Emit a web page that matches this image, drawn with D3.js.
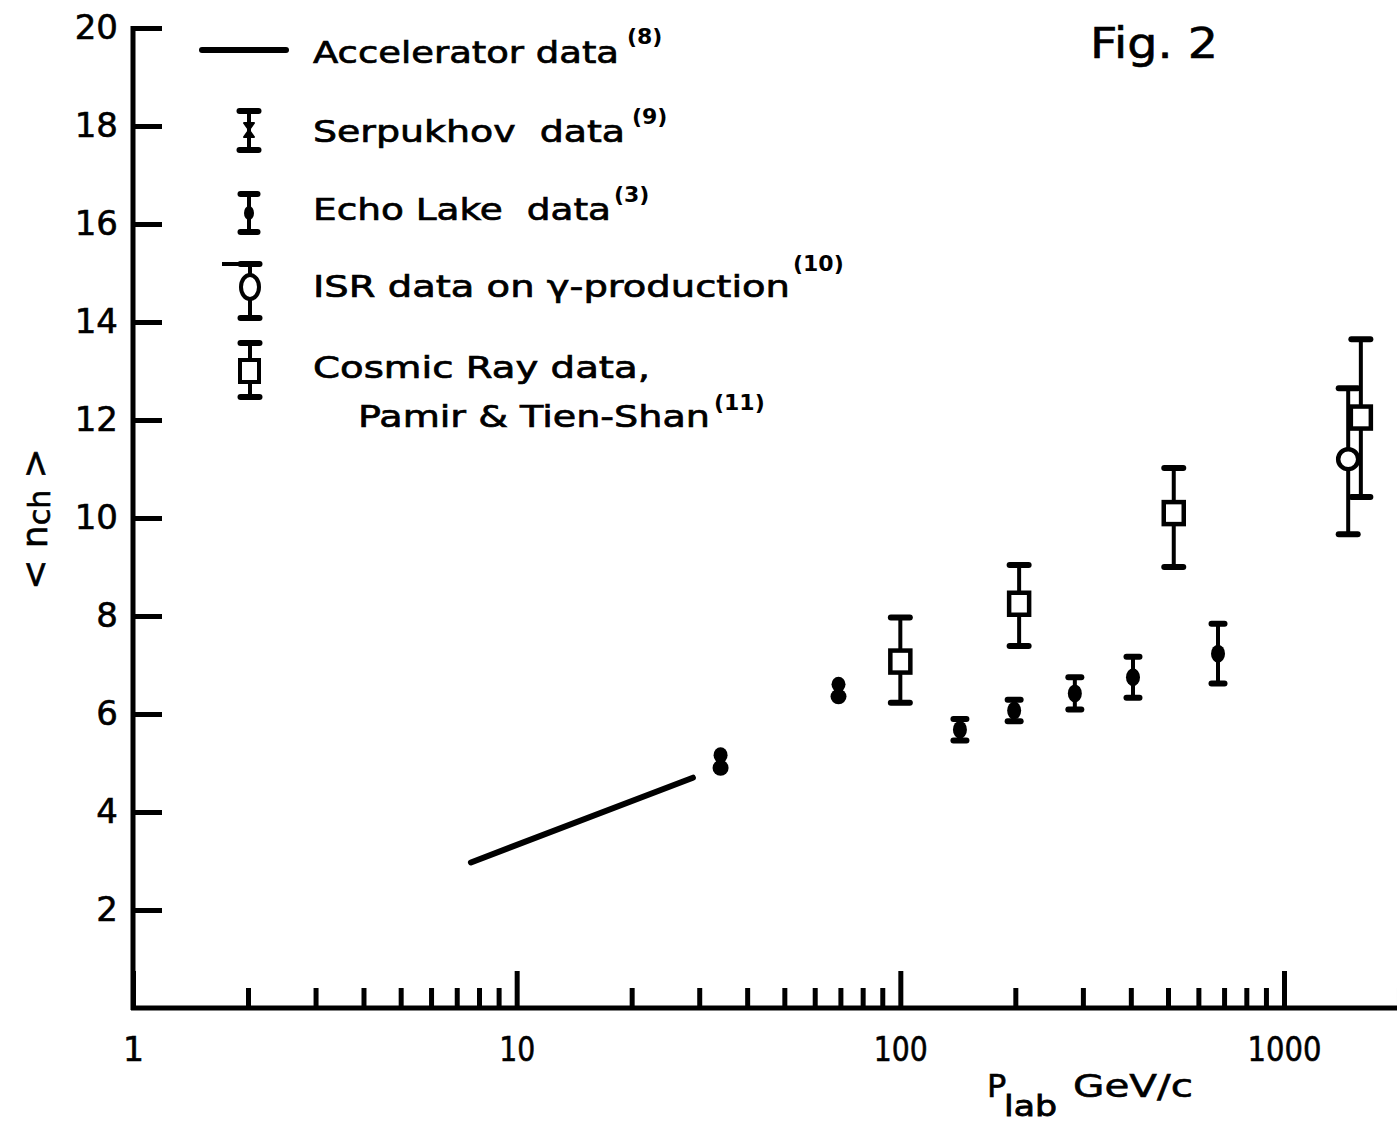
<!DOCTYPE html>
<html>
<head>
<meta charset="utf-8">
<script src="https://cdn.jsdelivr.net/npm/d3@7"></script>
<style>
  body { margin: 0; background: #fff; }
  svg { display: block; }
  text { font-family: "DejaVu Sans", sans-serif; fill: #000; white-space: pre; }
</style>
</head>
<body>
<div id="chart"></div>
<script>
// values: <n_ch> vs P_lab (GeV/c)
var accelP = [7.6, 28.8];
var accelN = [2.97, 4.7];

var serpP = [34, 69];
var serpN = [5.03, 6.48];
var serpErr = [0.26, 0.25];

var echoP = [143, 198, 285, 404, 673];
var echoN = [5.68, 6.07, 6.42, 6.75, 7.23];
var echoErr = [0.22, 0.22, 0.33, 0.42, 0.61];

var isrP = [1470];
var isrN = [11.2];
var isrLo = [9.67];
var isrHi = [12.65];

var cosmicP = [100, 204, 516, 1586];
var cosmicN = [7.07, 8.25, 10.1, 12.05];
var cosmicLo = [6.23, 7.39, 9.0, 10.43];
var cosmicHi = [7.97, 9.04, 11.02, 13.65];

var yTicks = [2, 4, 6, 8, 10, 12, 14, 16, 18, 20];
var xMajor = [1, 10, 100, 1000];
var xMinor = [2, 3, 4, 5, 6, 7, 8, 9, 20, 30, 40, 50, 60, 70, 80, 90,
              200, 300, 400, 500, 600, 700, 800, 900, 2000];

var W = 1397, H = 1123;

var svg = d3.select("#chart").append("svg")
    .attr("width", W)
    .attr("height", H);

var x = d3.scaleLog().domain([1, 1000]).range([133, 1284]);
var y = d3.scaleLinear().domain([0, 20]).range([1008, 28]);

// axes
var yAxis = d3.axisLeft(y).tickValues(yTicks).tickSize(-29).tickSizeOuter(0).tickPadding(15);
var gy = svg.append("g").attr("transform", "translate(133,0)").call(yAxis);
gy.select(".domain").remove();
gy.selectAll(".tick line").attr("stroke", "#000").attr("stroke-width", 5);
gy.selectAll(".tick text").style("font-size", "34px").attr("fill", "#000")
    .attr("stroke", "#000").attr("stroke-width", 0.6);

var labW = { 10: 36, 100: 54, 1000: 74 };
var xAxis = d3.axisBottom(x).tickValues(xMajor).tickSize(-37).tickSizeOuter(0)
    .tickPadding(30).tickFormat(d3.format("d"));
var gx = svg.append("g").attr("transform", "translate(0,1008)").call(xAxis);
gx.select(".domain").remove();
gx.selectAll(".tick line").attr("stroke", "#000").attr("stroke-width", 5);
gx.selectAll(".tick text").style("font-size", "33px").attr("fill", "#000")
    .attr("stroke", "#000").attr("stroke-width", 0.6);
gx.selectAll(".tick text").filter(function (d) { return labW[d]; })
    .attr("textLength", function (d) { return labW[d]; })
    .attr("lengthAdjust", "spacingAndGlyphs");

svg.append("g").selectAll("line").data(xMinor).enter().append("line")
    .attr("x1", function (d) { return x(d); })
    .attr("x2", function (d) { return x(d); })
    .attr("y1", 1008)
    .attr("y2", 988)
    .attr("stroke", "#000")
    .attr("stroke-width", 5);

// frame lines
svg.append("line").attr("x1", 133).attr("x2", 133).attr("y1", y(20) - 2).attr("y2", y(0) + 2)
    .attr("stroke", "#000").attr("stroke-width", 5);
svg.append("line").attr("x1", 131).attr("x2", W).attr("y1", y(0)).attr("y2", y(0))
    .attr("stroke", "#000").attr("stroke-width", 5);

// axis titles
var yt = svg.append("text")
    .attr("transform", "translate(47,519) rotate(-90)")
    .attr("text-anchor", "middle")
    .attr("stroke", "#000").attr("stroke-width", 0.6)
    .style("font-size", "36px");
yt.append("tspan").text("< n");
yt.append("tspan").attr("dy", 3).style("font-size", "30px").text("ch");
yt.append("tspan").attr("dy", -3).text(" >");

svg.append("text").attr("x", 987).attr("y", 1097).style("font-size", "32px")
    .attr("stroke", "#000").attr("stroke-width", 0.6).text("P");
svg.append("text").attr("x", 1004).attr("y", 1116).style("font-size", "28px")
    .attr("textLength", 53).attr("lengthAdjust", "spacingAndGlyphs")
    .attr("stroke", "#000").attr("stroke-width", 0.8).text("lab");
svg.append("text").attr("x", 1073).attr("y", 1097).style("font-size", "32px")
    .attr("textLength", 120).attr("lengthAdjust", "spacingAndGlyphs")
    .attr("stroke", "#000").attr("stroke-width", 0.6).text("GeV/c");

svg.append("text").attr("x", 1090).attr("y", 58).style("font-size", "42px")
    .attr("textLength", 128).attr("lengthAdjust", "spacingAndGlyphs")
    .attr("stroke", "#000").attr("stroke-width", 0.6).text("Fig. 2");

// helpers
function errBar(g, cx, yLo, yHi, capW) {
    g.append("line").attr("x1", cx).attr("x2", cx).attr("y1", yLo).attr("y2", yHi)
        .attr("stroke", "#000").attr("stroke-width", 4);
    [yLo, yHi].forEach(function (yy) {
        g.append("line").attr("x1", cx - capW / 2).attr("x2", cx + capW / 2)
            .attr("y1", yy).attr("y2", yy)
            .attr("stroke", "#000").attr("stroke-width", 6).attr("stroke-linecap", "round");
    });
}
function bowtie(g, cx, cy, hw, hh) {
    g.append("path")
        .attr("d", "M" + (cx - hw) + "," + (cy - hh) + "L" + (cx + hw) + "," + (cy - hh) +
            "L" + (cx - hw) + "," + (cy + hh) + "L" + (cx + hw) + "," + (cy + hh) + "Z")
        .attr("fill", "#000").attr("stroke", "#000").attr("stroke-width", 2)
        .attr("stroke-linejoin", "round");
}

var plot = svg.append("g");

// accelerator line
var line = d3.line().x(function (d) { return x(d[0]); }).y(function (d) { return y(d[1]); });
plot.append("path")
    .datum(d3.zip(accelP, accelN))
    .attr("d", line)
    .attr("fill", "none").attr("stroke", "#000").attr("stroke-width", 6)
    .attr("stroke-linecap", "round");

// Serpukhov: small error, so caps and cross merge into an hourglass blob
serpP.forEach(function (p, i) {
    var cx = x(p), yHi = y(serpN[i] + serpErr[i]), yLo = y(serpN[i] - serpErr[i]);
    var ry = (yLo - yHi) / 4;
    plot.append("ellipse").attr("cx", cx).attr("cy", yHi + ry).attr("rx", 7).attr("ry", ry + 1.5)
        .attr("fill", "#000");
    plot.append("ellipse").attr("cx", cx).attr("cy", yLo - ry).attr("rx", 8).attr("ry", ry + 1.5)
        .attr("fill", "#000");
    plot.append("rect").attr("x", cx - 4.5).attr("y", yHi + ry).attr("width", 9).attr("height", 2 * ry)
        .attr("fill", "#000");
});

// Echo Lake
echoP.forEach(function (p, i) {
    var cx = x(p);
    errBar(plot, cx, y(echoN[i] - echoErr[i]), y(echoN[i] + echoErr[i]), 13);
    plot.append("ellipse").attr("cx", cx).attr("cy", y(echoN[i])).attr("rx", 7).attr("ry", 9)
        .attr("fill", "#000");
});

// cosmic ray
cosmicP.forEach(function (p, i) {
    var cx = x(p), cy = y(cosmicN[i]);
    errBar(plot, cx, y(cosmicLo[i]), y(cosmicHi[i]), 19);
    plot.append("rect").attr("x", cx - 10).attr("y", cy - 11).attr("width", 20).attr("height", 22)
        .attr("fill", "#fff").attr("stroke", "#000").attr("stroke-width", 4.5);
});

// ISR
isrP.forEach(function (p, i) {
    var cx = x(p), cy = y(isrN[i]);
    errBar(plot, cx, y(isrLo[i]), y(isrHi[i]), 19);
    plot.append("circle").attr("cx", cx).attr("cy", cy).attr("r", 10)
        .attr("fill", "#fff").attr("stroke", "#000").attr("stroke-width", 4.5);
});

// legend
var lg = svg.append("g");
lg.append("line").attr("x1", 202).attr("x2", 286).attr("y1", 50).attr("y2", 50)
    .attr("stroke", "#000").attr("stroke-width", 6).attr("stroke-linecap", "round");

errBar(lg, 249, 150, 111, 19);
bowtie(lg, 249, 130, 5, 7);

errBar(lg, 249, 232, 194, 17);
lg.append("ellipse").attr("cx", 249).attr("cy", 213).attr("rx", 5).attr("ry", 7).attr("fill", "#000");

errBar(lg, 250, 318, 264, 19);
lg.append("line").attr("x1", 222).attr("x2", 250).attr("y1", 264).attr("y2", 264)
    .attr("stroke", "#000").attr("stroke-width", 4);
lg.append("ellipse").attr("cx", 250).attr("cy", 287).attr("rx", 9).attr("ry", 12)
    .attr("fill", "#fff").attr("stroke", "#000").attr("stroke-width", 4);

errBar(lg, 250, 397, 343, 19);
lg.append("rect").attr("x", 240).attr("y", 360).attr("width", 19).attr("height", 22)
    .attr("fill", "#fff").attr("stroke", "#000").attr("stroke-width", 4);

var legendRows = [
    { t: "Accelerator data", x: 313, y: 63, w: 306, sup: "(8)", sx: 627, sy: 44 },
    { t: "Serpukhov  data", x: 313, y: 142, w: 312, sup: "(9)", sx: 632, sy: 124 },
    { t: "Echo Lake  data", x: 313, y: 220, w: 298, sup: "(3)", sx: 614, sy: 202 },
    { t: "ISR data on \u03b3-production", x: 313, y: 297, w: 477, sup: "(10)", sx: 793, sy: 271 },
    { t: "Cosmic Ray data,", x: 313, y: 378, w: 337, sup: "", sx: 0, sy: 0 },
    { t: "Pamir & Tien-Shan", x: 358, y: 427, w: 352, sup: "(11)", sx: 714, sy: 410 }
];
legendRows.forEach(function (r) {
    lg.append("text").attr("x", r.x).attr("y", r.y)
        .attr("textLength", r.w).attr("lengthAdjust", "spacingAndGlyphs")
        .attr("stroke", "#000").attr("stroke-width", 0.7)
        .style("font-size", "31px").text(r.t);
    if (r.sup) {
        lg.append("text").attr("x", r.sx).attr("y", r.sy)
            .style("font-size", "22px").style("font-weight", "bold").text(r.sup);
    }
});
</script>
</body>
</html>
